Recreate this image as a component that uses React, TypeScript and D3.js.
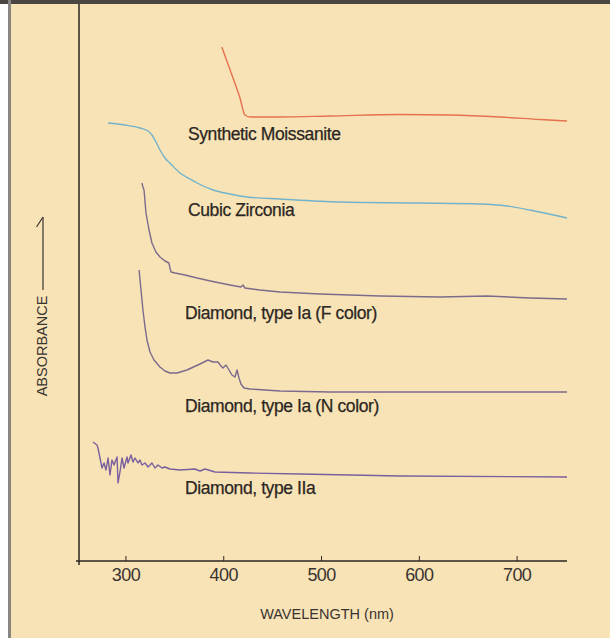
import React from "react";
import * as d3 from "d3";

// wavelength (nm), absorbance (arbitrary units, offset per stone)
const moissaniteNm = [398, 409.5, 416.6, 421.7, 426.8, 457.5, 508.6, 580.2, 631.3, 682.5, 723.4, 751];
const moissaniteAbs = [5.14, 4.83, 4.63, 4.46, 4.44, 4.44, 4.45, 4.465, 4.46, 4.44, 4.415, 4.4];

const zirconiaNm = [281.7, 299, 314.4, 322.6, 326.6, 330.7, 334.8, 339.9, 345, 355.3, 365.5, 372.7, 389, 406.4, 423.8, 457.5, 518.9, 600.7, 662, 689.6, 713.1, 751];
const zirconiaAbs = [4.38, 4.36, 4.33, 4.3, 4.26, 4.19, 4.11, 4.03, 3.98, 3.88, 3.82, 3.78, 3.71, 3.67, 3.64, 3.62, 3.59, 3.58, 3.57, 3.55, 3.51, 3.43];

const diamondFNm = [316.4, 317.4, 318.5, 320.5, 323.6, 326.6, 330.7, 334.8, 339.9, 344, 345, 346.1, 350.2, 360.4, 372.7, 391.1, 406.4, 417.6, 419.7, 421.7, 437.1, 457.5, 498.4, 559.8, 621.1, 669.2, 713.1, 751];
const diamondFAbs = [3.78, 3.74, 3.71, 3.48, 3.31, 3.18, 3.09, 3.04, 3.0, 2.98, 2.93, 2.89, 2.88, 2.86, 2.83, 2.79, 2.76, 2.74, 2.76, 2.73, 2.71, 2.69, 2.67, 2.65, 2.64, 2.65, 2.63, 2.62];

const diamondNNm = [313.4, 315.4, 317.4, 319.5, 321.5, 324.6, 328.7, 334.8, 339.9, 345, 352.2, 362.4, 375.7, 383.9, 389, 394.1, 397.2, 399.2, 402.3, 405.4, 408.4, 411.5, 413.6, 415.6, 417.6, 420.7, 426.8, 457.5, 508.6, 751];
const diamondNAbs = [2.91, 2.71, 2.51, 2.34, 2.21, 2.09, 2.01, 1.94, 1.9, 1.88, 1.88, 1.91, 1.97, 2.01, 1.99, 1.99, 1.95, 1.93, 1.96, 1.91, 1.86, 1.84, 1.91, 1.83, 1.77, 1.73, 1.72, 1.7, 1.69, 1.69];

const diamondIIaNm = [266.3, 270.4, 271.4, 273.5, 275.5, 277.6, 279.6, 281.7, 283.7, 285.7, 287.8, 290.9, 291.9, 293.9, 296, 298, 301.1, 302.1, 305.2, 307.2, 309.3, 312.3, 314.4, 316.4, 319.5, 322.6, 326.6, 329.7, 332.8, 336.9, 339.9, 345, 355.3, 370.6, 375.7, 380.8, 391.1, 426.8, 478, 580.2, 751];
const diamondIIaAbs = [1.19, 1.16, 1.13, 1.03, 0.93, 0.98, 0.91, 1.03, 0.86, 1.01, 0.96, 1.04, 0.78, 0.89, 1.03, 0.93, 1.04, 0.98, 1.06, 0.99, 1.03, 0.98, 1.01, 0.96, 0.98, 0.94, 0.98, 0.93, 0.96, 0.93, 0.94, 0.92, 0.91, 0.92, 0.9, 0.92, 0.89, 0.88, 0.87, 0.85, 0.84];

const xTicks = [300, 400, 500, 600, 700];
const seriesNames = [
  "Synthetic Moissanite",
  "Cubic Zirconia",
  "Diamond, type Ia (F color)",
  "Diamond, type Ia (N color)",
  "Diamond, type IIa",
];

const W = 610;
const H = 638;
const FONT = "'Liberation Sans', Arial, Helvetica, sans-serif";
const BG = "#f8e3b6";
const INK = "#2b2622";

export default function App() {
  const x = d3.scaleLinear().domain([252, 751]).range([79, 567]);
  const y = d3.scaleLinear().domain([0, 5.54]).range([561, 7]);

  const line = d3
    .line<[number, number]>()
    .x((d) => x(d[0]))
    .y((d) => y(d[1]))
    .curve(d3.curveLinear);
  const smooth = d3
    .line<[number, number]>()
    .x((d) => x(d[0]))
    .y((d) => y(d[1]))
    .curve(d3.curveMonotoneX);

  const zip = (a: number[], b: number[]) => a.map((v, i) => [v, b[i]] as [number, number]);

  const series = [
    { nm: moissaniteNm, abs: moissaniteAbs, color: "#e5714f", gen: smooth },
    { nm: zirconiaNm, abs: zirconiaAbs, color: "#72b2cb", gen: smooth },
    { nm: diamondFNm, abs: diamondFAbs, color: "#7c6c8c", gen: line },
    { nm: diamondNNm, abs: diamondNAbs, color: "#7c6a8e", gen: line },
    { nm: diamondIIaNm, abs: diamondIIaAbs, color: "#7a5f9e", gen: line },
  ];

  const labelPos = [
    { x: 188, y: 135 },
    { x: 188, y: 211 },
    { x: 185, y: 314 },
    { x: 185, y: 407 },
    { x: 185, y: 489 },
  ];

  const axisY = y(0);

  return (
    <svg
      width={W}
      height={H}
      style={{ position: "absolute", left: 0, top: 0, display: "block" }}
    >
      <rect x={0} y={0} width={W} height={H} fill="#ffffff" />
      <rect x={9} y={0} width={W - 9} height={H} fill={BG} />
      <rect x={0} y={0} width={W} height={4} fill="#4a4642" />
      <rect x={8} y={0} width={3} height={H} fill="#8a8580" />

      {/* axes */}
      <line x1={x(252)} x2={x(252)} y1={4} y2={axisY + 4} stroke={INK} strokeWidth={1.5} />
      <line x1={x(252) - 3} x2={x(751)} y1={axisY} y2={axisY} stroke={INK} strokeWidth={1.5} />
      {xTicks.map((t) => (
        <g key={t}>
          <line x1={x(t)} x2={x(t)} y1={axisY} y2={axisY - 5} stroke={INK} strokeWidth={1} />
          <text
            x={x(t)}
            y={axisY + 15}
            textAnchor="middle"
            dominantBaseline="middle"
            fontFamily={FONT}
            fontSize={18}
            fill="#3a3430"
            letterSpacing={-0.6}
          >
            {t}
          </text>
        </g>
      ))}
      <text
        x={327}
        y={615}
        textAnchor="middle"
        dominantBaseline="middle"
        fontFamily={FONT}
        fontSize={14.5}
        fill="#3a3430"
      >
        WAVELENGTH (nm)
      </text>

      {/* y label with arrow */}
      <text
        transform={`translate(43,346) rotate(-90)`}
        textAnchor="middle"
        dominantBaseline="middle"
        fontFamily={FONT}
        fontSize={14.5}
        fill="#3a3430"
      >
        ABSORBANCE
      </text>
      <line x1={43} x2={43} y1={290} y2={217} stroke="#3a3430" strokeWidth={1.2} />
      <line x1={43} x2={36.5} y1={217} y2={227} stroke="#3a3430" strokeWidth={1.2} />

      {/* spectra */}
      {series.map((s, i) => (
        <path
          key={i}
          d={s.gen(zip(s.nm, s.abs)) || ""}
          fill="none"
          stroke={s.color}
          strokeWidth={1.4}
          strokeLinejoin="round"
        />
      ))}

      {seriesNames.map((n, i) => (
        <text
          key={n}
          x={labelPos[i].x}
          y={labelPos[i].y}
          dominantBaseline="middle"
          fontFamily={FONT}
          fontSize={17.5}
          fill={INK}
          stroke={INK}
          strokeWidth={0.25}
          letterSpacing={-0.4}
        >
          {n}
        </text>
      ))}
    </svg>
  );
}
